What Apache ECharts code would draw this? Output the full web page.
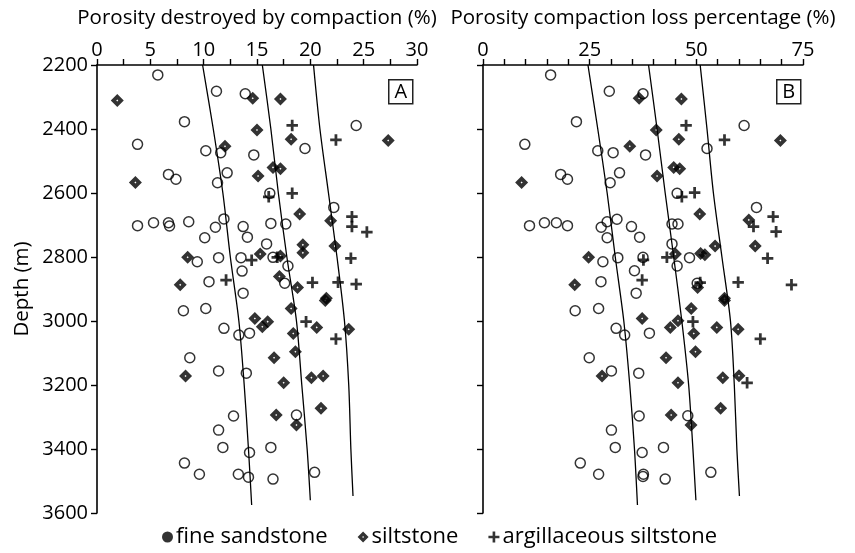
<!DOCTYPE html>
<html><head><meta charset="utf-8">
<script src="https://cdn.jsdelivr.net/npm/echarts@6/dist/echarts.min.js"></script>
<style>html,body{margin:0;padding:0;background:#fff}#c{width:855px;height:553px}</style>
</head><body><div id="c"></div><script>
// Panel A: porosity destroyed by compaction (%), [value, depth m]
const sandA = [[5.7,2231],[11.2,2282],[13.9,2290],[8.2,2377],[24.3,2389],[3.8,2448],[19.5,2461],[10.2,2468],[11.6,2474],[14.7,2481],[12.2,2537],[6.7,2542],[7.4,2557],[11.3,2568],[16.2,2601],[22.2,2645],[8.6,2690],[5.3,2693],[6.7,2693],[11.9,2681],[16.3,2695],[17.7,2697],[3.8,2702],[6.8,2703],[11.1,2707],[13.7,2705],[10.1,2740],[14.1,2738],[15.9,2759],[11.4,2802],[13.5,2802],[16.5,2801],[9.4,2815],[17.9,2828],[13.6,2844],[10.5,2877],[17.6,2882],[13.7,2913],[10.2,2961],[8.1,2968],[11.9,3023],[14.3,3038],[13.3,3044],[8.7,3115],[11.4,3156],[14.0,3163],[12.8,3297],[18.7,3294],[11.4,3341],[11.8,3395],[16.3,3395],[14.3,3411],[8.2,3444],[20.4,3473],[9.6,3479],[13.25,3479],[14.2,3488],[16.5,3494]];
const siltA = [[1.9,2311],[14.6,2304],[17.2,2306],[15.0,2403],[18.2,2432],[27.3,2436],[12.0,2454],[16.5,2520],[17.2,2524],[15.1,2547],[3.6,2567],[19.0,2666],[21.9,2687],[15.3,2791],[19.3,2762],[19.3,2787],[22.3,2766],[17.2,2797],[8.5,2801],[17.1,2861],[7.8,2887],[18.8,2895],[21.5,2929],[21.4,2936],[18.2,2961],[14.8,2992],[16.0,3002],[15.5,3018],[20.6,3020],[23.6,3026],[18.4,3039],[18.6,3096],[16.6,3115],[8.3,3172],[20.1,3177],[21.2,3172],[17.5,3193],[21.0,3273],[16.8,3294],[18.7,3325]];
const argA = [[18.3,2389],[22.4,2434],[16.1,2612],[18.3,2601],[23.9,2674],[23.9,2705],[25.3,2722],[14.5,2810],[23.8,2804],[16.9,2801],[12.1,2872],[20.2,2880],[22.6,2879],[24.3,2885],[19.6,3002],[22.4,3056]];
const curveA1 = [[9.9,2200],[10.9,2400],[11.8,2600],[12.5,2800],[13.3,3000],[13.8,3200],[14.2,3400],[14.5,3575]];
const curveA2 = [[15.5,2200],[16.3,2400],[17.0,2600],[17.8,2800],[18.7,3000],[19.2,3200],[19.7,3400],[20.0,3560]];
const curveA3 = [[20.3,2200],[20.9,2400],[21.7,2600],[22.5,2800],[23.2,3000],[23.6,3200],[23.8,3400],[24.0,3547]];
// Panel B: porosity compaction loss percentage (%), [value, depth m]
const sandB = [[15.85,2231],[29.6,2282],[37.5,2290],[21.9,2377],[61.2,2389],[9.8,2448],[52.5,2461],[26.9,2468],[30.5,2474],[38.1,2481],[32.0,2537],[18.2,2542],[19.8,2557],[29.8,2568],[45.5,2601],[64.1,2645],[29.1,2690],[31.4,2682],[14.4,2693],[17.2,2693],[44.3,2697],[45.7,2697],[10.9,2702],[19.8,2702],[27.7,2707],[34.8,2705],[29.1,2740],[36.7,2738],[44.3,2759],[31.6,2802],[37.5,2801],[48.4,2802],[28.1,2815],[45.5,2828],[35.5,2843],[27.65,2877],[50.2,2882],[35.9,2913],[27.1,2961],[21.6,2968],[31.2,3023],[39.0,3038],[33.2,3044],[24.9,3115],[30.1,3156],[36.5,3163],[36.6,3297],[48.0,3296],[30.1,3341],[31.0,3395],[42.3,3395],[37.3,3411],[22.8,3444],[53.4,3473],[27.1,3479],[37.6,3479],[37.5,3486],[42.7,3494]];
const siltB = [[36.6,2304],[46.5,2306],[40.6,2403],[45.9,2432],[69.7,2436],[34.4,2454],[44.7,2520],[46.1,2524],[40.8,2547],[9.05,2567],[50.8,2666],[62.3,2684],[45.1,2791],[54.4,2766],[63.8,2766],[51.0,2789],[52.0,2793],[24.75,2801],[21.5,2887],[50.3,2895],[56.6,2929],[56.6,2936],[48.8,2961],[37.3,2992],[45.7,2999],[43.9,3020],[54.8,3020],[59.8,3026],[49.4,3039],[49.8,3096],[42.9,3115],[27.9,3172],[56.2,3177],[60.0,3171],[45.7,3193],[55.7,3273],[44.1,3294],[48.75,3325]];
const argB = [[47.6,2389],[56.6,2434],[46.6,2612],[49.6,2599],[68.0,2674],[63.4,2705],[68.7,2721],[37.6,2809],[66.7,2804],[43.1,2801],[37.3,2872],[50.9,2880],[59.8,2879],[72.3,2887],[49.2,3002],[65.0,3056],[61.9,3193]];
const curveB1 = [[24.6,2200],[26.9,2400],[29.1,2600],[31.0,2800],[33.0,3000],[34.4,3200],[35.5,3400],[36.2,3575]];
const curveB2 = [[38.8,2200],[40.8,2400],[42.7,2600],[44.7,2800],[46.6,3000],[48.2,3200],[49.2,3400],[49.9,3560]];
const curveB3 = [[50.9,2200],[52.5,2400],[54.0,2600],[56.0,2800],[58.0,3000],[58.9,3200],[59.5,3400],[60.1,3547]];

const xTitleA = 'Porosity destroyed by compaction (%)';
const xTitleB = 'Porosity compaction loss percentage (%)';
const yTitle = 'Depth (m)';
const lithNames = ['fine sandstone','siltstone','argillaceous siltstone'];
const panelLabels = ['A','B'];

const FONT = '"Open Sans"';
const INK = '#000';
const PLUS = 'path://M3.8,0H6.2V3.8H10V6.2H6.2V10H3.8V6.2H0V3.8H3.8Z';
const DIAMOND = 'path://M5,0L10,5L5,10L0,5Z M5,4.2L4.2,5L5,5.8L5.8,5Z';
const axisLine = {show:true, lineStyle:{color:INK, width:1.6}};
const tickStyle = {show:true, length:6, lineStyle:{color:INK, width:1.4}};
const labelStyle = {color:INK, fontSize:20, fontFamily:FONT};
const titleStyle = {color:INK, fontSize:20.5, fontFamily:FONT};

function xAxis(idx, max, interval, minorSplit, name){
  return {gridIndex:idx, type:'value', position:'top', min:0, max:max, interval:interval,
    axisLine:axisLine, axisTick:tickStyle,
    minorTick:{show:true, splitNumber:minorSplit, length:6, lineStyle:{color:INK, width:1.4}},
    axisLabel:Object.assign({margin:5}, labelStyle), splitLine:{show:false},
    name:name, nameLocation:'middle', nameGap:36, nameTextStyle:titleStyle};
}
function yAxis(idx, showLabel){
  return {gridIndex:idx, type:'value', inverse:true, min:2200, max:3600, interval:200,
    axisLine:axisLine, axisTick:tickStyle,
    axisLabel:Object.assign({show:showLabel, margin:9, formatter:(v)=>String(v)}, labelStyle), splitLine:{show:false},
    name: showLabel ? yTitle : '', nameLocation:'middle', nameGap:64, nameTextStyle:titleStyle};
}
const sandStyle = {symbol:'circle', symbolSize:10, itemStyle:{color:'rgba(0,0,0,0)', borderColor:INK, borderWidth:1.5}};
const siltStyle = {symbol:DIAMOND, symbolSize:13, itemStyle:{color:INK}};
const argStyle = {symbol:PLUS, symbolSize:11.5, itemStyle:{color:INK}};
function scat(name, data, idx, st){
  return Object.assign({type:'scatter', name:name, data:data, xAxisIndex:idx, yAxisIndex:idx, z:3,
    emphasis:{disabled:true}}, JSON.parse(JSON.stringify(st)));
}
function curve(data, idx){
  return {type:'line', name:'curve', data:data, xAxisIndex:idx, yAxisIndex:idx, showSymbol:false,
    smooth:0.3, lineStyle:{color:INK, width:1.3}, z:2, silent:true};
}
function box(x, label){
  return {type:'group', left:x, top:79, children:[
    {type:'rect', shape:{x:0,y:0,width:24,height:24}, style:{fill:'#fff', stroke:'#222', lineWidth:1.5}},
    {type:'text', x:12, y:12.5, style:{text:label, fill:INK, font:'20px '+FONT, textAlign:'center', textVerticalAlign:'middle'}}
  ]};
}

const chart = echarts.init(document.getElementById('c'), null, {renderer:'canvas'});
chart.setOption({
  backgroundColor:'#fff',
  animation:false,
  grid:[{left:97, top:65, width:320, height:448}, {left:483, top:65, width:320, height:448}],
  xAxis:[xAxis(0, 30, 5, 2, xTitleA), xAxis(1, 75, 25, 5, xTitleB)],
  yAxis:[yAxis(0, true), yAxis(1, false)],
  legend:{bottom:0, left:157, itemGap:30, itemWidth:11, itemHeight:11,
    textStyle:{color:INK, fontSize:22, fontFamily:FONT, padding:[0,0,0,-2]},
    data:[
      {name:lithNames[0], icon:'circle', itemStyle:{color:INK, borderWidth:0}},
      {name:lithNames[1], icon:DIAMOND, itemStyle:{color:INK}},
      {name:lithNames[2], icon:PLUS, itemStyle:{color:INK}}
    ]},
  graphic:[box(388, panelLabels[0]), box(776, panelLabels[1])],
  series:[
    curve(curveA1,0), curve(curveA2,0), curve(curveA3,0),
    curve(curveB1,1), curve(curveB2,1), curve(curveB3,1),
    scat(lithNames[0], sandA, 0, sandStyle), scat(lithNames[1], siltA, 0, siltStyle), scat(lithNames[2], argA, 0, argStyle),
    scat(lithNames[0], sandB, 1, sandStyle), scat(lithNames[1], siltB, 1, siltStyle), scat(lithNames[2], argB, 1, argStyle)
  ]
});
</script></body></html>
